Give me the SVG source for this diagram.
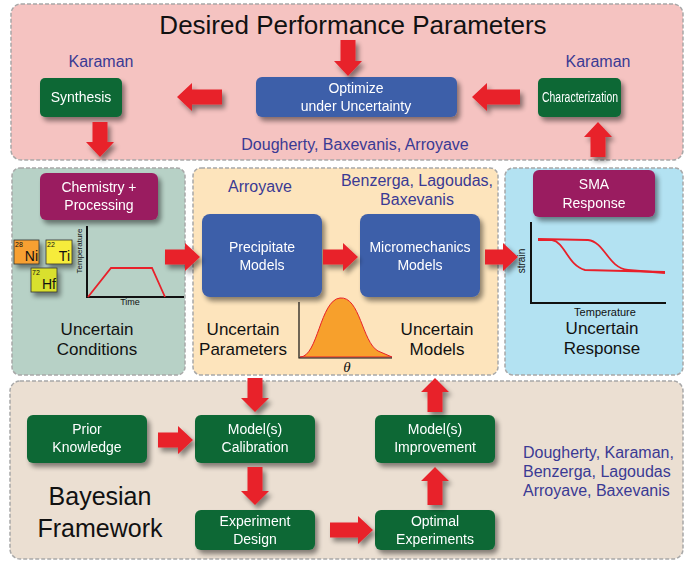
<svg xmlns="http://www.w3.org/2000/svg" width="685" height="562" viewBox="0 0 685 562">
<defs>
<filter id="sh" x="-20%" y="-20%" width="150%" height="160%">
<feGaussianBlur in="SourceAlpha" stdDeviation="2.5"/>
<feOffset dx="3" dy="4" result="b"/>
<feComponentTransfer><feFuncA type="linear" slope="0.45"/></feComponentTransfer>
<feMerge><feMergeNode/><feMergeNode in="SourceGraphic"/></feMerge>
</filter>
<style>
.panel{stroke:#a8a8a8;stroke-width:1.5;stroke-dasharray:4 2}
.green{fill:#0b6836}
.blue{fill:#3e5ea9}
.purple{fill:#9a1d60}
.lbl{font-family:"Liberation Sans",Arial,sans-serif;fill:#fff;font-size:14px;text-anchor:middle}
.big{font-family:"Liberation Sans",Arial,sans-serif;fill:#111;text-anchor:middle}
.cred{font-family:"Liberation Sans",Arial,sans-serif;fill:#3a3a94;font-size:16px}
.arr{fill:#e8202a}
.ax{stroke:#111;stroke-width:2;fill:none}
.cv{stroke:#e8202a;stroke-width:1.8;fill:none}
.small{font-family:"Liberation Sans",Arial,sans-serif;fill:#111}
</style>
</defs>
<rect width="685" height="562" fill="#ffffff"/>

<g id="panels">
<rect class="panel" x="11" y="4" width="672" height="156" rx="10" fill="#f5c3c1"/>
<rect class="panel" x="12" y="168" width="173" height="207" rx="8" fill="#b7d1c6"/>
<rect class="panel" x="193" y="168" width="305" height="207" rx="8" fill="#fde4bc"/>
<rect class="panel" x="505" y="168" width="178" height="207" rx="8" fill="#b3e2f2"/>
<rect class="panel" x="10" y="381" width="673" height="178" rx="10" fill="#ebdfd2"/>
</g>

<g id="texts">
<text class="big" x="353" y="34" font-size="26">Desired Performance Parameters</text>
<text class="cred" x="101" y="67" text-anchor="middle">Karaman</text>
<text class="cred" x="598" y="67" text-anchor="middle">Karaman</text>
<text class="cred" x="355" y="150" text-anchor="middle">Dougherty, Baxevanis, Arroyave</text>
<text class="cred" x="260" y="192" text-anchor="middle">Arroyave</text>
<text class="cred" x="417" y="186" text-anchor="middle">Benzerga, Lagoudas,</text>
<text class="cred" x="417" y="205" text-anchor="middle">Baxevanis</text>
<text class="big" x="97" y="335" font-size="17">Uncertain</text>
<text class="big" x="97" y="355" font-size="17">Conditions</text>
<text class="big" x="243" y="335" font-size="17">Uncertain</text>
<text class="big" x="243" y="355" font-size="17">Parameters</text>
<text class="big" x="437" y="335" font-size="17">Uncertain</text>
<text class="big" x="437" y="355" font-size="17">Models</text>
<text class="big" x="602" y="334" font-size="17">Uncertain</text>
<text class="big" x="602" y="354" font-size="17">Response</text>
<text class="big" x="100" y="505" font-size="25">Bayesian</text>
<text class="big" x="100" y="537" font-size="25">Framework</text>
<text class="cred" x="523" y="458">Dougherty, Karaman,</text>
<text class="cred" x="523" y="477">Benzerga, Lagoudas</text>
<text class="cred" x="523" y="496">Arroyave, Baxevanis</text>
</g>

<g id="synthesis" filter="url(#sh)">
<rect class="green" x="40" y="78" width="82" height="39" rx="5"/>
<text class="lbl" x="81" y="102">Synthesis</text>
</g>
<g id="optimize" filter="url(#sh)">
<rect class="blue" x="256" y="77" width="201" height="40" rx="6"/>
<text class="lbl" x="356" y="93" font-size="15">Optimize</text>
<text class="lbl" x="356" y="111" font-size="15">under Uncertainty</text>
</g>
<g id="characterization" filter="url(#sh)">
<rect class="green" x="538" y="78" width="83" height="39" rx="5"/>
<text class="lbl" x="580" y="102" font-size="14" textLength="76" lengthAdjust="spacingAndGlyphs">Characterization</text>
</g>

<g id="chemistry" filter="url(#sh)">
<rect class="purple" x="40" y="173" width="118" height="47" rx="6"/>
<text class="lbl" x="99" y="192">Chemistry +</text>
<text class="lbl" x="99" y="210">Processing</text>
</g>

<g id="elements">
<g filter="url(#sh)">
<rect x="14" y="240" width="25" height="24" fill="#f7a033" stroke="#333" stroke-width="0.8"/>
<rect x="46" y="240" width="26" height="24" fill="#f6ec3a" stroke="#333" stroke-width="0.8"/>
<rect x="31" y="268" width="26" height="24" fill="#d9e02e" stroke="#333" stroke-width="0.8"/>
</g>
<text class="small" x="15" y="247" font-size="7">28</text>
<text class="small" x="38" y="261" font-size="14" text-anchor="end">Ni</text>
<text class="small" x="47" y="247" font-size="7">22</text>
<text class="small" x="70" y="261" font-size="14" text-anchor="end">Ti</text>
<text class="small" x="32" y="275" font-size="7">72</text>
<text class="small" x="56" y="289" font-size="14" text-anchor="end">Hf</text>
</g>

<g id="processChart">
<path class="ax" d="M87 226 V297 H184"/>
<path class="cv" d="M88 297 L111 268 L152 268 L165 297" stroke-width="2"/>
<text class="small" x="82" y="251" font-size="8" text-anchor="middle" transform="rotate(-90 82 251)">Temperature</text>
<text class="small" x="130" y="305" font-size="9" text-anchor="middle">Time</text>
</g>

<g id="precipitate" filter="url(#sh)">
<rect class="blue" x="202" y="214" width="120" height="83" rx="8"/>
<text class="lbl" x="262" y="252">Precipitate</text>
<text class="lbl" x="262" y="270">Models</text>
</g>
<g id="micromechanics" filter="url(#sh)">
<rect class="blue" x="360" y="214" width="120" height="83" rx="8"/>
<text class="lbl" x="420" y="252">Micromechanics</text>
<text class="lbl" x="420" y="270">Models</text>
</g>

<g id="gaussian">
<path d="M300 357 C318 357 320 300 340 298 C360 296 362 342 378 351 L392 357 Z" fill="#f7a02c" stroke="#e8202a" stroke-width="1"/>
<path d="M299 302 V358 H392" stroke="#111" stroke-width="1.2" fill="none"/>
<text x="347" y="372" font-family="'Liberation Serif',serif" font-style="italic" font-size="15" fill="#111" text-anchor="middle">θ</text>
</g>

<g id="sma" filter="url(#sh)">
<rect class="purple" x="533" y="170" width="122" height="47" rx="6"/>
<text class="lbl" x="594" y="189">SMA</text>
<text class="lbl" x="594" y="208">Response</text>
</g>

<g id="responseChart">
<path class="ax" d="M531 222 V303 H666"/>
<path class="cv" d="M538 239 L588 240 C605 242 608 268 628 270 L665 273"/>
<path class="cv" d="M538 240 L552 240 C565 242 568 266 585 270 L665 272"/>
<text class="small" x="525" y="261" font-size="10" text-anchor="middle" transform="rotate(-90 525 261)">strain</text>
<text class="small" x="605" y="316" font-size="11" text-anchor="middle">Temperature</text>
</g>

<g id="prior" filter="url(#sh)">
<rect class="green" x="27" y="415" width="120" height="48" rx="6"/>
<text class="lbl" x="87" y="434">Prior</text>
<text class="lbl" x="87" y="452">Knowledge</text>
</g>
<g id="calibration" filter="url(#sh)">
<rect class="green" x="195" y="415" width="120" height="48" rx="6"/>
<text class="lbl" x="255" y="434">Model(s)</text>
<text class="lbl" x="255" y="452">Calibration</text>
</g>
<g id="experimentDesign" filter="url(#sh)">
<rect class="green" x="195" y="510" width="120" height="40" rx="6"/>
<text class="lbl" x="255" y="526">Experiment</text>
<text class="lbl" x="255" y="544">Design</text>
</g>
<g id="improvement" filter="url(#sh)">
<rect class="green" x="375" y="415" width="120" height="48" rx="6"/>
<text class="lbl" x="435" y="434">Model(s)</text>
<text class="lbl" x="435" y="452">Improvement</text>
</g>
<g id="optimal" filter="url(#sh)">
<rect class="green" x="375" y="510" width="120" height="40" rx="6"/>
<text class="lbl" x="435" y="526">Optimal</text>
<text class="lbl" x="435" y="544">Experiments</text>
</g>

<g id="connectors" filter="url(#sh)">
<polygon class="arr" points="340.5,40 355.5,40 355.5,61 362,61 348,76 334,61 340.5,61"/>
<polygon class="arr" points="222,89.5 192,89.5 192,83 177,97 192,111 192,104.5 222,104.5"/>
<polygon class="arr" points="520,89.5 487,89.5 487,83 472,97 487,111 487,104.5 520,104.5"/>
<polygon class="arr" points="92.5,122 107.5,122 107.5,142 114,142 100,157 86,142 92.5,142"/>
<polygon class="arr" points="590.5,157 605.5,157 605.5,137 612,137 598,122 584,137 590.5,137"/>
<polygon class="arr" points="165,249.5 185,249.5 185,243 200,257 185,271 185,264.5 165,264.5"/>
<polygon class="arr" points="323,249.5 343,249.5 343,243 358,257 343,271 343,264.5 323,264.5"/>
<polygon class="arr" points="485,249.5 503,249.5 503,243 518,257 503,271 503,264.5 485,264.5"/>
<polygon class="arr" points="247.5,378 262.5,378 262.5,398 269,398 255,412 241,398 247.5,398"/>
<polygon class="arr" points="158,432.5 178,432.5 178,426 193,440 178,454 178,447.5 158,447.5"/>
<polygon class="arr" points="247.5,467 262.5,467 262.5,491 269,491 255,505 241,491 247.5,491"/>
<polygon class="arr" points="330,522.5 358,522.5 358,516 373,530 358,544 358,537.5 330,537.5"/>
<polygon class="arr" points="427.5,505 442.5,505 442.5,481 449,481 435,467 421,481 427.5,481"/>
<polygon class="arr" points="427.5,412 442.5,412 442.5,392 449,392 435,378 421,392 427.5,392"/>
</g>
</svg>
